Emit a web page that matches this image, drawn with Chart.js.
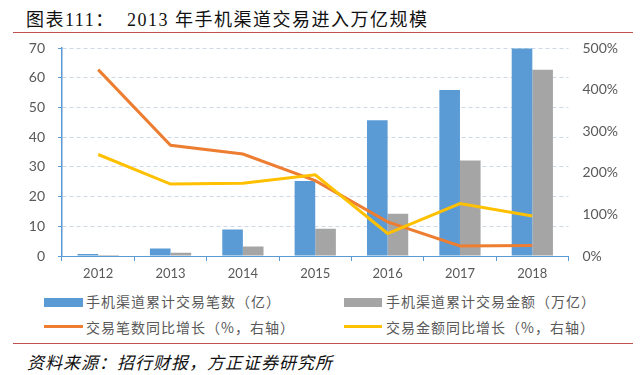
<!DOCTYPE html>
<html>
<head>
<meta charset="utf-8">
<script src="https://cdn.jsdelivr.net/npm/chart.js@4.4.1/dist/chart.umd.min.js"></script>
<style>
    body { margin: 0; background: #fff; width: 640px; height: 375px; overflow: hidden; position: relative; font-family: "Noto Sans CJK SC", sans-serif; }
    .title { position: absolute; top: 8px; font-size: 18px; letter-spacing: 1.5px; color: #111; white-space: nowrap; line-height: 24px;
             font-family: "Liberation Serif", "Noto Sans CJK SC", serif; }
    .rule { position: absolute; left: 13px; width: 620px; height: 0; border-top: 1.5px solid #C0504D; }
    #chartBox { position: absolute; left: 0; top: 0; width: 640px; height: 290px; }
    .leg { position: absolute; font-size: 14px; letter-spacing: 1px; color: #595959; white-space: nowrap; line-height: 16px; }
    .sw { position: absolute; }
    #source { position: absolute; left: 27px; top: 351px; font-size: 17px; letter-spacing: 1px; font-style: italic; color: #111; white-space: nowrap; line-height: 22px; }
</style>
</head>
<body>
<div class="title" style="left:26px">图表111：</div>
<div class="title" style="left:127px">2013 年手机渠道交易进入万亿规模</div>
<div class="rule" style="top:32px"></div>
<div id="chartBox"><canvas id="chart1"></canvas></div>

<div class="sw" style="left:44px; top:298px; width:39px; height:9px; background:#5B9BD5"></div>
<div class="leg" style="left:86px; top:293px">手机渠道累计交易笔数（亿）</div>
<div class="sw" style="left:344px; top:298px; width:38px; height:9px; background:#A5A5A5"></div>
<div class="leg" style="left:386px; top:293px">手机渠道累计交易金额（万亿）</div>
<div class="sw" style="left:44px; top:325px; width:39px; height:3px; background:#ED7D31"></div>
<div class="leg" style="left:86px; top:319px">交易笔数同比增长（%，右轴）</div>
<div class="sw" style="left:344px; top:325px; width:38px; height:3px; background:#FFC000"></div>
<div class="leg" style="left:386px; top:319px">交易金额同比增长（%，右轴）</div>

<div class="rule" style="top:343px"></div>
<div id="source">资料来源：招行财报，方正证券研究所</div>

<script>
const years = ["2012", "2013", "2014", "2015", "2016", "2017", "2018"];
const txCount = [0.7, 2.5, 8.9, 25.2, 45.7, 55.9, 69.8];       // 亿笔
const txAmount = [0.3, 1.1, 3.2, 9.2, 14.2, 32.1, 62.7];       // 万亿
const countGrowth = [448, 266, 245, 181, 82, 24, 25];          // %
const amountGrowth = [244, 173, 175, 195, 54, 126, 96];        // %

const tickFont = {family: "Lato, 'Noto Sans', sans-serif", size: 14};
const tickColor = "#595959";
const axisBlue = "#5B9BD5";

function fixWidth(w) {
    return function (scale) { scale.width = w; };
}

const ctx = document.getElementById('chart1').getContext('2d');
new Chart(ctx, {
    type: "bar",
    data: {
        labels: years,
        datasets: [
            {
                type: "line",
                label: "交易金额同比增长（%，右轴）",
                data: amountGrowth,
                borderColor: "#FFC000",
                borderWidth: 3,
                pointRadius: 0,
                tension: 0,
                yAxisID: "y1",
                order: 0
            },
            {
                type: "line",
                label: "交易笔数同比增长（%，右轴）",
                data: countGrowth,
                borderColor: "#ED7D31",
                borderWidth: 3,
                pointRadius: 0,
                tension: 0,
                yAxisID: "y1",
                order: 1
            },
            {
                label: "手机渠道累计交易笔数（亿）",
                data: txCount,
                backgroundColor: "#5B9BD5",
                categoryPercentage: 0.57,
                barPercentage: 1,
                yAxisID: "y",
                order: 2
            },
            {
                label: "手机渠道累计交易金额（万亿）",
                data: txAmount,
                backgroundColor: "#A5A5A5",
                categoryPercentage: 0.57,
                barPercentage: 1,
                yAxisID: "y",
                order: 2
            }
        ]
    },
    options: {
        responsive: true,
        maintainAspectRatio: false,
        animation: false,
        layout: {padding: {top: 48, left: 0, right: 0, bottom: 0}},
        plugins: {legend: {display: false}, tooltip: {enabled: false}},
        scales: {
            x: {
                offset: true,
                grid: {display: true, drawOnChartArea: false, drawTicks: true, tickLength: 5, color: axisBlue, offset: true},
                border: {display: true, color: axisBlue, width: 1},
                ticks: {font: {family: "Lato, 'Noto Sans', sans-serif", size: 13}, color: tickColor, padding: 5, maxRotation: 0},
                afterFit: function (scale) { scale.height = 34; }
            },
            y: {
                position: "left",
                min: 0,
                max: 70,
                ticks: {stepSize: 10, font: tickFont, color: tickColor, padding: 13},
                grid: {color: "#CFD8E6", tickColor: axisBlue, tickLength: 4, drawTicks: true},
                border: {display: true, color: axisBlue, width: 1.5, dash: [4, 3]},
                afterFit: fixWidth(62)
            },
            y1: {
                position: "right",
                min: 0,
                max: 500,
                ticks: {stepSize: 100, font: tickFont, color: tickColor, padding: 14, callback: v => v + "%"},
                grid: {display: false, drawTicks: false},
                border: {display: false},
                afterFit: fixWidth(71.5)
            }
        }
    }
});
</script>
</body>
</html>
